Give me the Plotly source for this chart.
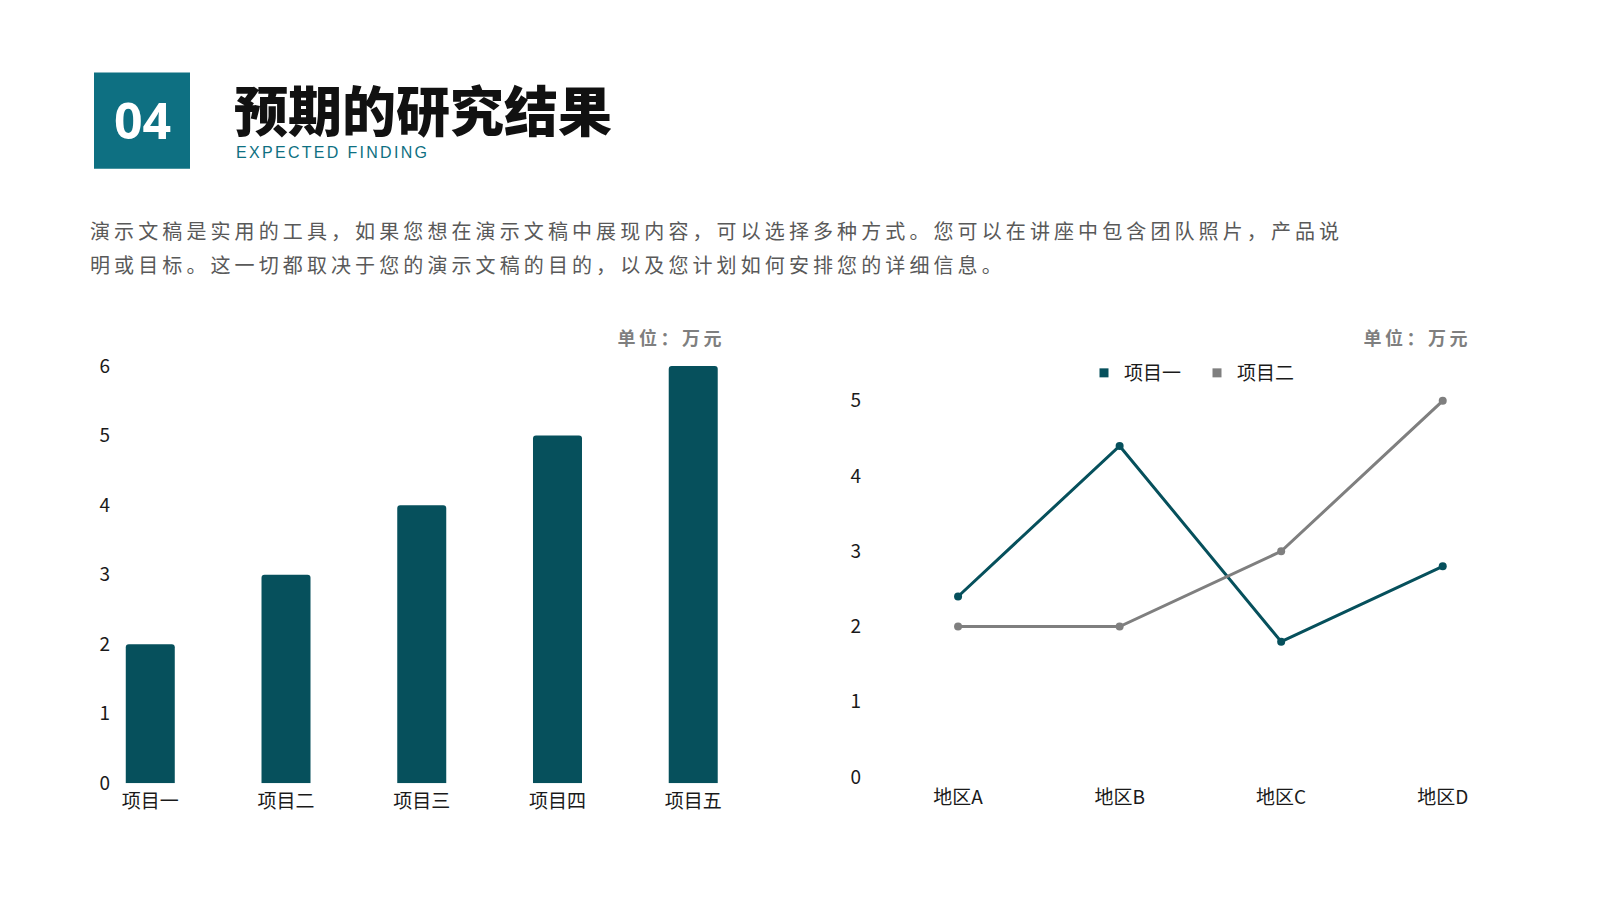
import plotly.graph_objects as go

# ---- data ----
bar_categories = ["项目一", "项目二", "项目三", "项目四", "项目五"]
bar_values = [2, 3, 4, 5, 6]

line_categories = ["地区A", "地区B", "地区C", "地区D"]
series1_name = "项目一"
series1_values = [2.4, 4.4, 1.8, 2.8]
series2_name = "项目二"
series2_values = [2, 2, 3, 5]

bar_ticks = [0, 1, 2, 3, 4, 5, 6]
line_ticks = [0, 1, 2, 3, 4, 5]

title_text = "预期的研究结果"
subtitle_text = "EXPECTED FINDING"
number_text = "04"
para_line1 = "演示文稿是实用的工具，如果您想在演示文稿中展现内容，可以选择多种方式。您可以在讲座中包含团队照片，产品说"
para_line2 = "明或目标。这一切都取决于您的演示文稿的目的，以及您计划如何安排您的详细信息。"
unit_text = "单位：万元"

# ---- style ----
W, H = 1600, 900
TEAL_BOX = "#0E7082"
DARK_TEAL = "#06505C"
GRAY = "#7F7F7F"
FONT = "Noto Sans CJK SC"

def px(x):
    return x / W

def py(y):
    return 1 - y / H

fig = go.Figure()

fig.add_trace(go.Bar(
    x=bar_categories, y=bar_values, xaxis="x", yaxis="y",
    marker=dict(color=DARK_TEAL, cornerradius=3, line=dict(width=0)),
    showlegend=False, hoverinfo="skip",
))

fig.add_trace(go.Scatter(
    x=line_categories, y=series1_values, xaxis="x2", yaxis="y2",
    mode="lines+markers", line=dict(color=DARK_TEAL, width=3),
    marker=dict(color=DARK_TEAL, size=8), showlegend=False, name=series1_name,
    cliponaxis=False,
))
fig.add_trace(go.Scatter(
    x=line_categories, y=series2_values, xaxis="x2", yaxis="y2",
    mode="lines+markers", line=dict(color=GRAY, width=3),
    marker=dict(color=GRAY, size=8), showlegend=False, name=series2_name,
    cliponaxis=False,
))
# legend entries (square symbols)
for nm, col in [(series1_name, DARK_TEAL), (series2_name, GRAY)]:
    fig.add_trace(go.Scatter(
        x=[None], y=[None], xaxis="x2", yaxis="y2", mode="markers",
        marker=dict(symbol="square", color=col, size=9), name=nm,
    ))

axis_font = dict(family=FONT, size=19, color="#1a1a1a")

fig.update_layout(
    width=W, height=H,
    margin=dict(l=0, r=0, t=0, b=0, pad=0, autoexpand=False),
    paper_bgcolor="white", plot_bgcolor="white",
    font=dict(family=FONT),
    bargap=0.639,
    xaxis=dict(domain=[px(74.4), px(753.1)], range=[-0.5, 4.5], anchor="y",
               showgrid=False, zeroline=False, showline=False, ticks="",
               tickfont=axis_font, automargin=False, ticklabelstandoff=5),
    yaxis=dict(domain=[py(775.2), py(358.1)], range=[0, 6], anchor="free",
               position=px(102), tickvals=bar_ticks, showgrid=False,
               zeroline=False, showline=False, ticks="", tickfont=axis_font,
               automargin=False),
    xaxis2=dict(domain=[px(869.3), px(1515.5)], range=[-0.5, 3.5], anchor="y2",
                showgrid=False, zeroline=False, showline=False, ticks="",
                tickfont=axis_font, automargin=False, ticklabelstandoff=7),
    yaxis2=dict(domain=[py(769.1), py(392.8)], range=[0, 5], anchor="free",
                position=px(853), tickvals=line_ticks, showgrid=False,
                zeroline=False, showline=False, ticks="", tickfont=axis_font,
                automargin=False),
    legend=dict(orientation="h", x=px(1076), y=py(365), xanchor="left",
                yanchor="middle", font=dict(family=FONT, size=19, color="#1a1a1a"),
                entrywidth=68, entrywidthmode="pixels", itemwidth=30,
                bgcolor="rgba(0,0,0,0)"),
    shapes=[dict(type="rect", xref="paper", yref="paper",
                 x0=px(86), x1=px(182), y0=py(160.7), y1=py(64.6),
                 fillcolor=TEAL_BOX, line=dict(width=0), layer="below")],
)

fig.add_annotation(x=px(134), y=py(112), xref="paper", yref="paper",
                   text=number_text, showarrow=False, xanchor="center", yanchor="middle",
                   font=dict(family="Open Sans", size=50, color="white", weight=700))
fig.add_annotation(x=px(224), y=py(100), xref="paper", yref="paper",
                   text=title_text, showarrow=False, xanchor="left", yanchor="middle",
                   align="left",
                   font=dict(family=FONT, size=54, color="#111111", weight=900))
fig.add_annotation(x=px(226), y=py(144.5), xref="paper", yref="paper",
                   text=subtitle_text, showarrow=False, xanchor="left", yanchor="middle",
                   align="left",
                   font=dict(family="Liberation Sans", size=16, color=TEAL_BOX))
fig.add_annotation(x=px(80), y=py(222), xref="paper", yref="paper",
                   text=para_line1, showarrow=False, xanchor="left", yanchor="middle",
                   align="left",
                   font=dict(family=FONT, size=20, color="#595959"))
fig.add_annotation(x=px(80), y=py(256), xref="paper", yref="paper",
                   text=para_line2, showarrow=False, xanchor="left", yanchor="middle",
                   align="left",
                   font=dict(family=FONT, size=20, color="#595959"))
for xr in (719, 1465):
    fig.add_annotation(x=px(xr), y=py(329.5), xref="paper", yref="paper",
                       text=unit_text, showarrow=False, xanchor="right", yanchor="middle",
                       align="right",
                       font=dict(family=FONT, size=18, color=GRAY, weight=700))

spacing_js = """
var gd = document.getElementById('{plot_id}');
function applySpacing() {
  gd.querySelectorAll('text.annotation-text').forEach(function (t) {
    var s = t.textContent;
    if (s.indexOf('演示文稿是') === 0 || s.indexOf('明或目标') === 0) {
      t.style.letterSpacing = '4.1px';
    } else if (s === 'EXPECTED FINDING') {
      t.style.letterSpacing = '2.3px';
    } else if (s === '单位：万元') {
      t.style.letterSpacing = '3.5px';
    }
  });
}
applySpacing();
gd.on('plotly_afterplot', applySpacing);
"""

fig.write_html("out.html", post_script=spacing_js)
